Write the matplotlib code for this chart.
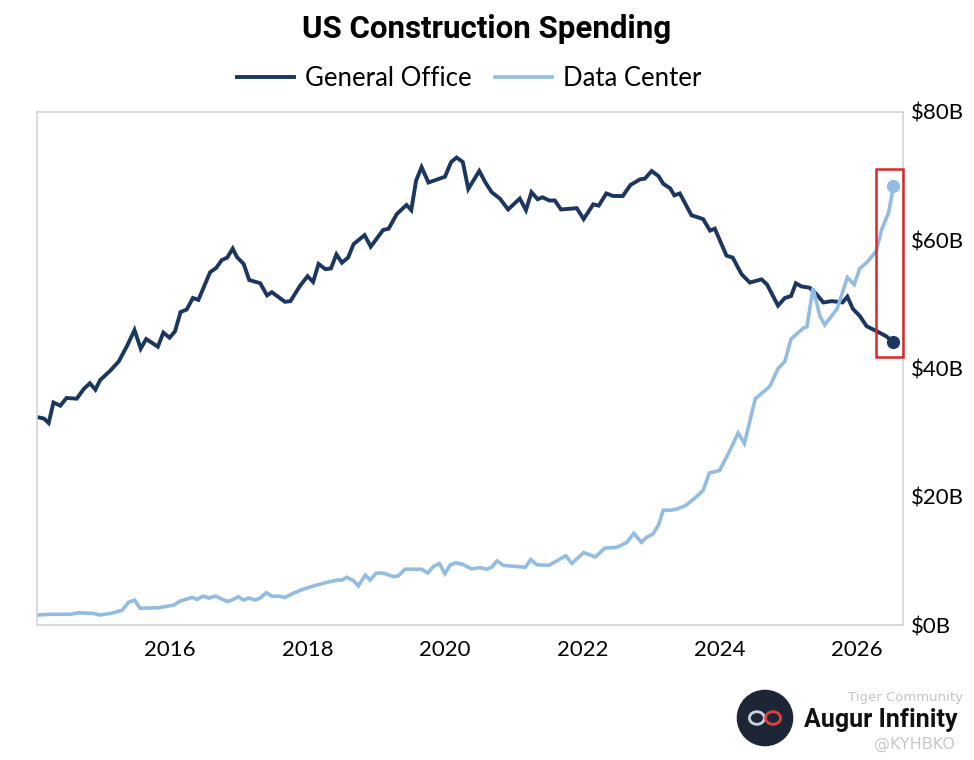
import matplotlib
matplotlib.use('Agg')
import matplotlib.pyplot as plt
from matplotlib.patches import Rectangle, Circle, Ellipse

# General Office construction spending ($B)
office_x = [2014.07, 2014.16, 2014.23, 2014.30, 2014.40, 2014.49, 2014.64, 2014.74, 2014.83, 2014.91,
            2014.98, 2015.13, 2015.25, 2015.37, 2015.48, 2015.57, 2015.65, 2015.82, 2015.90, 2015.99,
            2016.07, 2016.15, 2016.24, 2016.33, 2016.41, 2016.58, 2016.67, 2016.75, 2016.83, 2016.91,
            2016.97, 2017.07, 2017.15, 2017.31, 2017.41, 2017.48, 2017.67, 2017.75, 2017.89, 2018.00,
            2018.08, 2018.16, 2018.26, 2018.34, 2018.42, 2018.50, 2018.59, 2018.67, 2018.83, 2018.92,
            2019.01, 2019.10, 2019.18, 2019.30, 2019.40, 2019.44, 2019.51, 2019.58, 2019.66, 2019.76,
            2020.00, 2020.09, 2020.17, 2020.26, 2020.34, 2020.50, 2020.59, 2020.68, 2020.80, 2020.92,
            2021.09, 2021.18, 2021.26, 2021.35, 2021.42, 2021.52, 2021.60, 2021.69, 2021.92, 2022.02,
            2022.16, 2022.24, 2022.35, 2022.45, 2022.59, 2022.70, 2022.84, 2022.91, 2023.01, 2023.11,
            2023.18, 2023.28, 2023.34, 2023.42, 2023.59, 2023.76, 2023.86, 2023.93, 2024.10, 2024.19,
            2024.32, 2024.44, 2024.61, 2024.69, 2024.85, 2024.95, 2025.04, 2025.11, 2025.19, 2025.31,
            2025.41, 2025.51, 2025.63, 2025.73, 2025.79, 2025.86, 2025.94, 2026.04, 2026.14, 2026.29,
            2026.43, 2026.53]
office_y = [32.4, 32.2, 31.5, 34.7, 34.2, 35.4, 35.3, 36.8, 37.7, 36.7,
            38.2, 39.7, 41.1, 43.5, 46.0, 43.1, 44.6, 43.4, 45.6, 44.8,
            45.8, 48.8, 49.2, 51.0, 50.7, 55.0, 55.7, 56.9, 57.3, 58.7,
            57.4, 56.3, 53.8, 53.3, 51.4, 51.9, 50.4, 50.5, 52.9, 54.4,
            53.5, 56.3, 55.5, 55.6, 57.8, 56.5, 57.3, 59.4, 60.8, 59.0,
            60.3, 61.6, 61.8, 64.1, 65.1, 65.5, 64.7, 69.3, 71.4, 69.0,
            69.9, 72.2, 72.9, 72.2, 68.0, 70.8, 69.0, 67.5, 66.5, 64.8,
            66.5, 64.7, 67.5, 66.4, 66.7, 66.2, 66.2, 64.8, 65.0, 63.3,
            65.6, 65.4, 67.3, 66.9, 66.9, 68.6, 69.5, 69.6, 70.8, 70.0,
            68.8, 68.1, 67.0, 67.3, 63.9, 63.3, 61.5, 61.8, 57.6, 57.3,
            54.7, 53.4, 53.9, 53.1, 49.8, 51.0, 51.3, 53.3, 52.8, 52.6,
            51.6, 50.3, 50.5, 50.4, 50.3, 51.2, 49.3, 48.2, 46.6, 45.8,
            45.0, 44.1]

# Data Center construction spending ($B)
dc_x = [2014.07, 2014.25, 2014.54, 2014.67, 2014.88, 2014.98, 2015.13, 2015.30, 2015.39, 2015.48,
        2015.56, 2015.83, 2016.05, 2016.15, 2016.32, 2016.39, 2016.48, 2016.56, 2016.66, 2016.83,
        2016.90, 2016.99, 2017.07, 2017.14, 2017.24, 2017.31, 2017.40, 2017.48, 2017.58, 2017.67,
        2017.79, 2017.94, 2018.14, 2018.30, 2018.43, 2018.50, 2018.57, 2018.67, 2018.74, 2018.84,
        2018.91, 2019.00, 2019.10, 2019.25, 2019.32, 2019.42, 2019.66, 2019.75, 2019.83, 2019.92,
        2020.00, 2020.08, 2020.16, 2020.25, 2020.39, 2020.51, 2020.61, 2020.68, 2020.76, 2020.85,
        2021.17, 2021.25, 2021.34, 2021.51, 2021.63, 2021.76, 2021.85, 2022.02, 2022.19, 2022.33,
        2022.50, 2022.65, 2022.75, 2022.86, 2022.94, 2023.03, 2023.11, 2023.18, 2023.28, 2023.38,
        2023.50, 2023.64, 2023.76, 2023.85, 2024.00, 2024.13, 2024.27, 2024.36, 2024.52, 2024.73,
        2024.85, 2024.95, 2025.04, 2025.22, 2025.27, 2025.36, 2025.46, 2025.53, 2025.71, 2025.86,
        2025.96, 2026.04, 2026.14, 2026.28, 2026.36, 2026.46, 2026.53]
dc_y = [1.56, 1.67, 1.67, 1.9, 1.8, 1.56, 1.8, 2.3, 3.5, 3.9,
        2.6, 2.7, 3.1, 3.75, 4.3, 4.0, 4.5, 4.2, 4.5, 3.65,
        3.9, 4.4, 3.9, 4.2, 3.9, 4.2, 5.05, 4.5, 4.5, 4.3,
        4.95, 5.6, 6.25, 6.7, 7.0, 7.0, 7.45, 6.9, 6.1, 7.8,
        7.0, 8.1, 8.1, 7.55, 7.65, 8.7, 8.7, 8.1, 9.1, 9.6,
        8.0, 9.4, 9.7, 9.5, 8.75, 8.95, 8.7, 9.0, 10.0, 9.3,
        9.0, 10.2, 9.4, 9.3, 10.0, 10.8, 9.6, 11.3, 10.6, 12.0,
        12.1, 12.9, 14.3, 12.9, 13.7, 14.2, 15.6, 17.9, 17.9, 18.1,
        18.6, 19.8, 21.0, 23.7, 24.1, 26.8, 29.95, 28.3, 35.3, 37.2,
        40.0, 41.1, 44.6, 46.3, 46.5, 52.5, 48.2, 46.8, 49.3, 54.2,
        53.1, 55.6, 56.5, 58.3, 61.7, 64.3, 68.4]

year_ticks = [2016, 2018, 2020, 2022, 2024, 2026]
value_ticks = [0, 20, 40, 60, 80]
value_labels = ['$0B', '$20B', '$40B', '$60B', '$80B']

navy = '#1b365f'
light = '#93bce2'
red = '#d8282c'

fig = plt.figure(figsize=(9.74, 7.6), dpi=100)
ax = fig.add_axes([37 / 974, 1 - 625 / 760, (903 - 37) / 974, (625 - 112) / 760])

ax.plot(office_x, office_y, color=navy, lw=2.8, label='General Office', solid_joinstyle='miter')
ax.plot(dc_x, dc_y, color=light, lw=2.6, label='Data Center', solid_joinstyle='miter')
ax.plot(office_x[-1], office_y[-1], 'o', color=navy, ms=8.5)
ax.plot(dc_x[-1], dc_y[-1], 'o', color=light, ms=8.5)

# red highlight box around the latest readings
ax.add_patch(Rectangle((2026.28, 41.8), 0.39, 29.3, fill=False, ec=red, lw=1.8, clip_on=False, zorder=5))

ax.set_xlim(2014.06, 2026.67)
ax.set_ylim(0, 80)
ax.set_xticks(year_ticks)
ax.set_xticklabels([str(y) for y in year_ticks], family='Lato', fontsize=16)
ax.yaxis.tick_right()
ax.set_yticks(value_ticks)
ax.set_yticklabels(value_labels, family='Lato', fontsize=16)
ax.tick_params(axis='x', length=0, pad=11)
ax.tick_params(axis='y', length=0, pad=6)
for s in ax.spines.values():
    s.set_color('#d4d4d4')
    s.set_linewidth(1.2)

fig.text(0.4995, 1 - 29 / 760, 'US Construction Spending', ha='center', va='center',
         family='Roboto', fontweight='bold', fontsize=22.5)

fig.legend(loc='center', bbox_to_anchor=(0.482, 1 - 78 / 760), ncol=2, frameon=False,
           prop={'family': 'Lato', 'size': 18.5}, handlelength=2.2, handletextpad=0.45,
           columnspacing=0.9)

# logo in the corner
lax = fig.add_axes([735 / 974, 1 - 748 / 760, 60 / 974, 60 / 760])
lax.set_xlim(-1, 1)
lax.set_ylim(-1, 1)
lax.set_aspect('equal')
lax.axis('off')
lax.add_patch(Circle((0, 0), 0.92, color='#1d2636'))
lax.add_patch(Ellipse((-0.27, 0), 0.5, 0.42, fill=False, ec='#c9d4e3', lw=2))
lax.add_patch(Ellipse((0.27, 0), 0.5, 0.42, fill=False, ec='#e0423b', lw=2))
fig.text(881 / 974, 1 - 720 / 760, 'Augur Infinity', ha='center', va='center',
         family='Roboto', fontweight='bold', fontsize=18, color='#111111')

# faint watermark, kept just clear of the logo text
fig.text(905 / 974, 1 - 697 / 760, 'Tiger Community', ha='center', va='center',
         family='DejaVu Sans', fontsize=9.5, color='#c4c4c4')
fig.text(914 / 974, 1 - 744 / 760, '@KYHBKO', ha='center', va='center',
         family='DejaVu Sans', fontsize=11.5, color='#c8c8c8')

fig.savefig('out.png', dpi=100)
